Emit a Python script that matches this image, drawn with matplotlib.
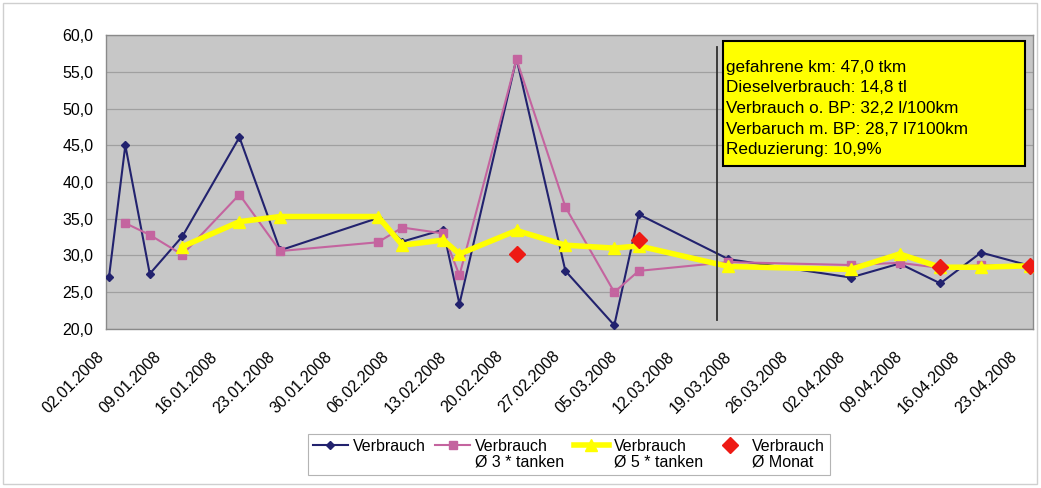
import matplotlib
matplotlib.use('Agg')
import matplotlib.pyplot as plt
import numpy as np
import pandas as pd
from matplotlib.patches import Rectangle
from matplotlib.lines import Line2D
from matplotlib.ticker import FuncFormatter
from matplotlib.transforms import ScaledTranslation

plt.rcParams['font.family'] = ['Liberation Sans', 'DejaVu Sans']

# ---------------- data ----------------
dates = ['02.01.2008', '04.01.2008', '07.01.2008', '11.01.2008', '18.01.2008',
         '23.01.2008', '04.02.2008', '07.02.2008', '12.02.2008', '14.02.2008',
         '21.02.2008', '27.02.2008', '04.03.2008', '07.03.2008', '18.03.2008',
         '02.04.2008', '08.04.2008', '13.04.2008', '18.04.2008', '24.04.2008']

verbrauch = [27.1, 45.0, 27.5, 32.6, 46.1, 30.7, 35.1, 31.9, 33.5, 23.4,
             56.8, 27.9, 20.5, 35.6, 29.5, 27.0, 28.9, 26.2, 30.4, 28.6]
avg3 = [None, 34.4, 32.8, 30.1, 38.3, 30.6, 31.8, 33.8, 33.0, 27.3,
        56.7, 36.6, 25.0, 27.9, 29.1, 28.7, 29.0, 28.3, 28.7, 28.6]
avg5 = [None, None, None, 31.2, 34.6, 35.3, 35.3, 31.4, 32.1, 30.2,
        33.4, 31.4, 31.0, 31.3, 28.5, 28.1, 30.2, 28.4, 28.4, 28.6]
monat = [None, None, None, None, None, None, None, None, None, None,
         30.2, None, None, 32.1, None, None, None, 28.4, None, 28.6]

tick_labels = ['02.01.2008', '09.01.2008', '16.01.2008', '23.01.2008', '30.01.2008',
               '06.02.2008', '13.02.2008', '20.02.2008', '27.02.2008', '05.03.2008',
               '12.03.2008', '19.03.2008', '26.03.2008', '02.04.2008', '09.04.2008',
               '16.04.2008', '23.04.2008']
y_ticks = [20, 25, 30, 35, 40, 45, 50, 55, 60]

legend_names = ['Verbrauch', 'Verbrauch', 'Verbrauch', 'Verbrauch']
legend_sub = ['', 'Ø 3 * tanken', 'Ø 5 * tanken', 'Ø Monat']

box_lines = ['gefahrene km: 47,0 tkm',
             'Dieselverbrauch: 14,8 tl',
             'Verbrauch o. BP: 32,2 l/100km',
             'Verbaruch m. BP: 28,7 l7100km',
             'Reduzierung: 10,9%']
separator_date = '2008-03-16 14:00'

# ---------------- plot ----------------
def arr(v):
    return np.array([np.nan if a is None else a for a in v], dtype=float)

x = pd.to_datetime(dates, format='%d.%m.%Y')

fig = plt.figure(figsize=(10.41, 4.88), dpi=100)
fig.patch.set_facecolor('white')
ax = fig.add_axes([0.1018, 0.326, 0.8905, 0.602])
ax.set_facecolor('#c7c7c7')

c_blue = '#22226e'
c_pink = '#c4649f'
c_yel = '#ffff00'
c_red = '#ee1a14'

l1, = ax.plot(x, arr(verbrauch), color=c_blue, lw=1.5, marker='D', ms=4.5, zorder=3)
m2 = ~np.isnan(arr(avg3))
l2, = ax.plot(x[m2], arr(avg3)[m2], color=c_pink, lw=1.5, marker='s', ms=6, zorder=4)
m3 = ~np.isnan(arr(avg5))
l3, = ax.plot(x[m3], arr(avg5)[m3], color=c_yel, lw=4, marker='^', ms=9, zorder=5)
l4, = ax.plot(x, arr(monat), linestyle='none', color=c_red, marker='D', ms=8, zorder=6)

ax.axvline(pd.Timestamp(separator_date), ymin=0.03, ymax=0.96, color='#303030', lw=1.3, zorder=7)

ax.set_ylim(20, 60)
ax.set_yticks(y_ticks)
ax.yaxis.set_major_formatter(FuncFormatter(lambda v, p: f"{v:.1f}".replace('.', ',')))
ax.set_xlim(x[0] - pd.Timedelta(hours=9), x[-1] + pd.Timedelta(hours=9))
tick_pos = pd.to_datetime(tick_labels, format='%d.%m.%Y')
ax.set_xticks(tick_pos)
ax.set_xticklabels(tick_labels, rotation=45, ha='right', va='center', rotation_mode='anchor')
ax.tick_params(axis='x', length=0, pad=18, labelsize=11.5)
ax.tick_params(axis='y', length=0, pad=9, labelsize=11.5)
for lab in ax.get_xticklabels():
    lab.set_transform(lab.get_transform() + ScaledTranslation(-5.5 / 72, 0, fig.dpi_scale_trans))
ax.grid(axis='y', color='#a0a0a0', lw=0.9)
ax.set_axisbelow(True)
for s in ax.spines.values():
    s.set_color('#8a8a8a')
    s.set_linewidth(1.0)

# text box
box = Rectangle((723 / 1041, 1 - 166 / 488), (1025 - 723) / 1041, (166 - 41) / 488,
                transform=fig.transFigure, facecolor='#ffff00', edgecolor='black',
                lw=1.5, zorder=8)
fig.add_artist(box)
fig.text(726 / 1041, 1 - 108.5 / 488, '\n'.join(box_lines), fontsize=12.3,
         linespacing=1.46, va='center', ha='left', zorder=9)

# legend
blank = Line2D([], [], linestyle='none', marker=None)
handles = [l1, blank, l2, blank, l3, blank, l4, blank]
labels = [legend_names[0], legend_sub[0], legend_names[1], legend_sub[1],
          legend_names[2], legend_sub[2], legend_names[3], legend_sub[3]]
leg = fig.legend(handles=handles, labels=labels, ncol=4, loc='center',
                 bbox_to_anchor=(0.5466, 0.069), labelspacing=0.05, handlelength=2.2,
                 handletextpad=0.3, columnspacing=0.6, frameon=True, fancybox=False,
                 edgecolor='#b4b4b4', borderpad=0.3, fontsize=11.5, framealpha=1)
leg.get_frame().set_linewidth(0.8)

# outer chart border
fig.add_artist(Rectangle((0.003, 0.008), 0.993, 0.986, transform=fig.transFigure,
                         facecolor='none', edgecolor='#cfcfcf', lw=1.0, zorder=0))

fig.savefig('out.png', dpi=100)
